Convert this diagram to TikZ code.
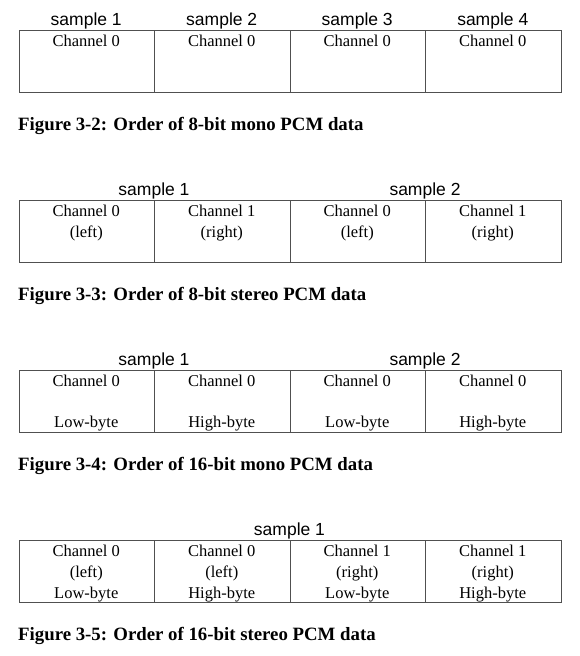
\documentclass[tikz,border=0pt]{standalone}
\usepackage{fontspec}
\setmainfont{Liberation Serif}
\newfontfamily\sansf{Liberation Sans}
\definecolor{linegray}{RGB}{80,80,80}
\newcommand{\cellfont}{\fontsize{16.5}{20}\selectfont}
\newcommand{\sampfont}{\sansf\fontsize{17.5}{20}\selectfont}
\newcommand{\capfont}{\bfseries\fontsize{18.8}{22}\selectfont}
\tikzset{
  cell/.style={draw=linegray, line width=1pt, minimum width=135.5pt, minimum height=62pt, inner sep=0pt, anchor=north west},
  celltext/.style={font=\cellfont, anchor=base, inner sep=0pt},
  samp/.style={font=\sampfont, anchor=base, inner sep=0pt},
  figcap/.style={font=\capfont, anchor=base west, inner sep=0pt}
}
\begin{document}
\begin{tikzpicture}[x=1pt,y=-1pt]
\useasboundingbox[fill=white] (0,0) rectangle (580,656);
% ---------- Table 1 ----------
\foreach \i in {1,...,4}{
  \node[cell] (t1c\i) at ({18.5+(\i-1)*135.5},30) {};
  \node[celltext] (t1a\i) at ({86.25+(\i-1)*135.5},46.5) {Channel 0};
  \node[samp] (t1s\i) at ({86.25+(\i-1)*135.5},25) {sample \i};
}
\node[figcap] (cap1) at (18,130) {Figure 3-2: Order of 8-bit mono PCM data};
% ---------- Table 2 ----------
\foreach \i/\ch/\side in {1/0/left,2/1/right,3/0/left,4/1/right}{
  \node[cell] (t2c\i) at ({18.5+(\i-1)*135.5},200) {};
  \node[celltext] (t2a\i) at ({86.25+(\i-1)*135.5},216.5) {Channel \ch};
  \node[celltext] (t2b\i) at ({86.25+(\i-1)*135.5},237.5) {(\side)};
}
\node[samp] (t2s1) at (154,195) {sample 1};
\node[samp] (t2s2) at (425,195) {sample 2};
\node[figcap] (cap2) at (18,300) {Figure 3-3: Order of 8-bit stereo PCM data};
% ---------- Table 3 ----------
\foreach \i/\by in {1/Low,2/High,3/Low,4/High}{
  \node[cell] (t3c\i) at ({18.5+(\i-1)*135.5},370) {};
  \node[celltext] (t3a\i) at ({86.25+(\i-1)*135.5},386.5) {Channel 0};
  \node[celltext] (t3b\i) at ({86.25+(\i-1)*135.5},427.5) {\by-byte};
}
\node[samp] (t3s1) at (154,365) {sample 1};
\node[samp] (t3s2) at (425,365) {sample 2};
\node[figcap] (cap3) at (18,470) {Figure 3-4: Order of 16-bit mono PCM data};
% ---------- Table 4 ----------
\foreach \i/\ch/\side/\by in {1/0/left/Low,2/0/left/High,3/1/right/Low,4/1/right/High}{
  \node[cell] (t4c\i) at ({18.5+(\i-1)*135.5},540) {};
  \node[celltext] (t4a\i) at ({86.25+(\i-1)*135.5},556.5) {Channel \ch};
  \node[celltext] (t4b\i) at ({86.25+(\i-1)*135.5},577.5) {(\side)};
  \node[celltext] (t4d\i) at ({86.25+(\i-1)*135.5},598) {\by-byte};
}
\node[samp] (t4s1) at (289.5,535) {sample 1};
\node[figcap] (cap4) at (18,640) {Figure 3-5: Order of 16-bit stereo PCM data};
\end{tikzpicture}
\end{document}
